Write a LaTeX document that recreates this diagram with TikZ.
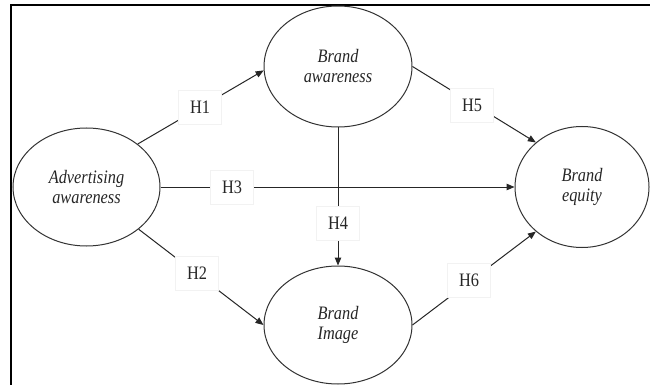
\documentclass[tikz,border=0pt]{standalone}
\usepackage{fontspec}
\setmainfont[FakeStretch=0.86]{Liberation Serif}
\usetikzlibrary{shapes.geometric,arrows.meta}
\begin{document}
\begin{tikzpicture}[x=1pt,y=-1pt,
  construct/.style={ellipse,draw=black!80,line width=1pt,inner sep=0pt,align=center,
    font=\fontsize{19}{20}\selectfont\itshape,text=black!85},
  hyp/.style={fill=white,draw=black!5,minimum width=43pt,minimum height=34pt,inner sep=0pt,
    font=\fontsize{19}{20}\selectfont,text=black!85},
  link/.style={draw=black!85,line width=1pt,-{Triangle[length=8pt,width=6.5pt]}},
  plainlink/.style={draw=black!85,line width=1pt}]
\useasboundingbox (0,0) rectangle (650,385);
\fill[white] (0,0) rectangle (650,385);
\draw[line width=2pt] (650,5) -- (10.5,5) -- (10.5,385);

\node[construct,minimum width=147pt,minimum height=118pt] (adv) at (86.5,187) {Advertising\\awareness};
\node[construct,minimum width=148pt,minimum height=121pt] (ba) at (338,66.5) {Brand\\awareness};
\node[construct,minimum width=148pt,minimum height=118pt] (bi) at (338,325) {Brand\\Image};
\node[construct,minimum width=134pt,minimum height=121pt] (eq) at (582,187) {Brand\\equity};

\draw[link] (adv.40) -- (ba.183);
\draw[link] (adv.-39) -- (bi.180);
\draw[link] (adv.east) -- (eq.west);
\draw[link] (ba.south) -- (bi.north);
\draw[link] (ba.0) -- (eq.136);
\draw[link] (bi.0) -- (eq.224);

\node[hyp] (h1) at (200,107) {H1};
\node[hyp] (h2) at (197,273) {H2};
\node[hyp] (h3) at (232,187) {H3};
\node[hyp] (h4) at (338,223) {H4};
\node[hyp] (h5) at (472,105) {H5};
\node[hyp] (h6) at (469,280) {H6};
\end{tikzpicture}
\end{document}
